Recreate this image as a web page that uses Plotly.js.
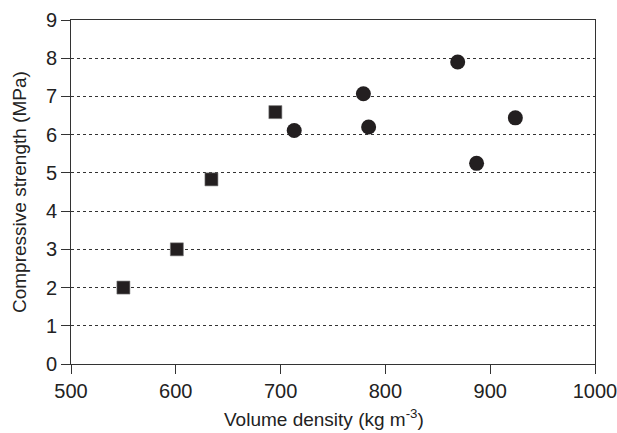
<!DOCTYPE html>
<html>
<head>
<meta charset="utf-8">
<script src="https://cdn.plot.ly/plotly-3.0.1.min.js"></script>
<style>
  html, body { margin: 0; padding: 0; background: #fff; }
  #chart { width: 617px; height: 433px; }
</style>
</head>
<body>
<div id="chart"></div>
<script>
// Square series: lower-density samples
const squareDensity = [550, 601, 634, 695];
const squareStrength = [2.0, 3.0, 4.83, 6.59];

// Circle series: higher-density samples
const circleDensity = [713, 779, 784, 869, 887, 924];
const circleStrength = [6.11, 7.07, 6.2, 7.9, 5.25, 6.44];

const xTicks = [500, 600, 700, 800, 900, 1000];
const yTicks = [0, 1, 2, 3, 4, 5, 6, 7, 8, 9];

const xTitle = 'Volume density (kg m<sup>-3</sup>)';
const yTitle = 'Compressive strength (MPa)';

const ink = '#231f20';
const axisColor = '#333333';
const textColor = '#222222';
const font = 'Liberation Sans, Arial, sans-serif';

const traces = [
  {
    x: squareDensity, y: squareStrength,
    type: 'scatter', mode: 'markers', name: 'squares',
    marker: { symbol: 'square', size: 13, color: ink, line: { color: '#777', width: 0.6 } },
    cliponaxis: false
  },
  {
    x: circleDensity, y: circleStrength,
    type: 'scatter', mode: 'markers', name: 'circles',
    marker: { symbol: 'circle', size: 15, color: ink, line: { width: 0 } },
    cliponaxis: false
  }
];

const titleFont = { family: font, size: 19, color: textColor };

const layout = {
  width: 617, height: 433,
  margin: { l: 71, r: 22, t: 20, b: 69 },
  paper_bgcolor: '#fff', plot_bgcolor: '#fff',
  showlegend: false,
  font: { family: font, color: textColor, size: 20 },
  xaxis: {
    range: [500, 1000],
    tickmode: 'array', tickvals: xTicks, ticktext: xTicks.map(String),
    ticks: 'outside', ticklen: 9, tickwidth: 1, tickcolor: axisColor,
    showline: true, linecolor: axisColor, linewidth: 1, mirror: true,
    showgrid: false, zeroline: false, automargin: false,
    ticklabeloverflow: 'allow',
    tickfont: { family: font, size: 20, color: textColor }
  },
  yaxis: {
    range: [0, 9],
    tickmode: 'array', tickvals: yTicks, ticktext: yTicks.map(String),
    ticks: 'outside', ticklen: 9, tickwidth: 1, tickcolor: axisColor,
    showline: true, linecolor: axisColor, linewidth: 1, mirror: true,
    showgrid: true, gridcolor: '#333', gridwidth: 1, griddash: 'dot',
    zeroline: false, automargin: false,
    tickfont: { family: font, size: 20, color: textColor }
  },
  // axis titles placed as annotations for exact positioning
  annotations: [
    {
      text: xTitle, font: titleFont, showarrow: false,
      xref: 'paper', yref: 'paper', x: 0.5, y: 0,
      xanchor: 'center', yanchor: 'middle', xshift: -9, yshift: -54
    },
    {
      text: yTitle, font: titleFont, showarrow: false, textangle: -90,
      xref: 'paper', yref: 'paper', x: 0, y: 0.5,
      xanchor: 'center', yanchor: 'middle', xshift: -52, yshift: 0
    }
  ]
};

Plotly.newPlot('chart', traces, layout, { staticPlot: true, displayModeBar: false });
</script>
</body>
</html>
